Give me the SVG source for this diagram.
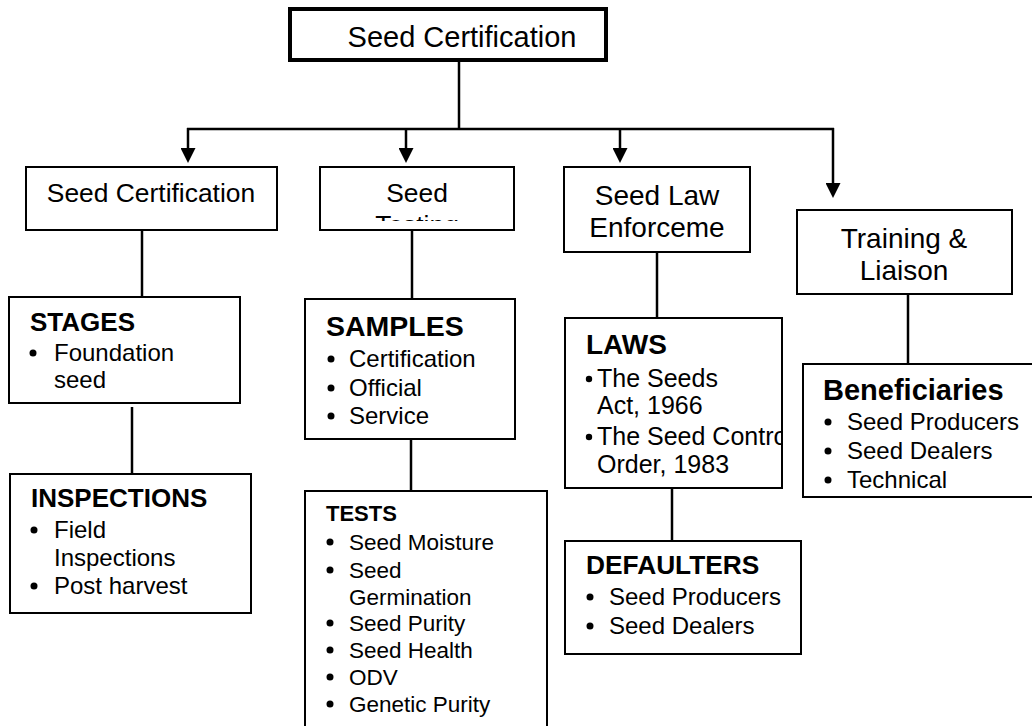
<svg xmlns="http://www.w3.org/2000/svg" width="1032" height="726" viewBox="0 0 1032 726">
  <style>
    text { font-family: "Liberation Sans", Arial, sans-serif; fill: #000; }
    .box { fill: #fff; stroke: #000; stroke-width: 2; }
    .root { fill: #fff; stroke: #000; stroke-width: 4; }
    .head { font-size: 26.4px; }
    .head2 { font-size: 28px; }
    .title { font-size: 29px; }
    .bold { font-weight: bold; }
    .item { font-size: 24px; }
    .link { fill: none; stroke: #000; stroke-width: 2.5; }
    .bullet { fill: #000; }
  </style>
  <defs>
    <marker id="arrow" viewBox="0 0 15 15" refX="0" refY="7.5" markerWidth="15" markerHeight="15" markerUnits="userSpaceOnUse" orient="auto">
      <path d="M0,0 L15,7.5 L0,15 Z" fill="#000"/>
    </marker>
    <clipPath id="clip-testing"><rect x="321" y="168" width="192" height="53"/></clipPath>
    <clipPath id="clip-laws"><rect x="566" y="319" width="216" height="168"/></clipPath>
  </defs>

  <!-- connectors -->
  <g id="connectors">
    <line class="link" x1="459" y1="62" x2="459" y2="129" stroke-width="3"/>
    <line class="link" x1="187" y1="129" x2="834" y2="129"/>
    <line class="link" x1="188" y1="128" x2="188" y2="148" marker-end="url(#arrow)"/>
    <line class="link" x1="406" y1="128" x2="406" y2="148" marker-end="url(#arrow)"/>
    <line class="link" x1="620" y1="128" x2="620" y2="148" marker-end="url(#arrow)"/>
    <line class="link" x1="833" y1="128" x2="833" y2="183" marker-end="url(#arrow)"/>
    <line class="link" x1="142" y1="231" x2="142" y2="296"/>
    <line class="link" x1="132" y1="407" x2="132" y2="473"/>
    <line class="link" x1="412" y1="231" x2="412" y2="298"/>
    <line class="link" x1="411" y1="440" x2="411" y2="490"/>
    <line class="link" x1="657" y1="253" x2="657" y2="317"/>
    <line class="link" x1="672" y1="489" x2="672" y2="540"/>
    <line class="link" x1="908" y1="295" x2="908" y2="363"/>
  </g>

  <!-- root -->
  <g id="node-root">
    <rect class="root" x="290" y="9" width="316" height="51"/>
    <text class="title" x="462" y="47" text-anchor="middle">Seed Certification</text>
  </g>

  <!-- first level -->
  <g id="node-certification">
    <rect class="box" x="26" y="167" width="251" height="63"/>
    <text class="head" x="151" y="202" text-anchor="middle">Seed Certification</text>
  </g>
  <g id="node-testing">
    <rect class="box" x="320" y="167" width="194" height="63"/>
    <g clip-path="url(#clip-testing)">
      <text class="head" x="417" y="202" text-anchor="middle">Seed</text>
      <text class="head" x="417" y="234" text-anchor="middle">Testing</text>
    </g>
  </g>
  <g id="node-enforcement">
    <rect class="box" x="564" y="167" width="186" height="85"/>
    <text class="head2" x="657" y="205" text-anchor="middle">Seed Law</text>
    <text class="head2" x="657" y="237" text-anchor="middle">Enforceme</text>
  </g>
  <g id="node-training">
    <rect class="box" x="797" y="210" width="215" height="84"/>
    <text class="head2" x="904" y="248" text-anchor="middle">Training &amp;</text>
    <text class="head2" x="904" y="280" text-anchor="middle">Liaison</text>
  </g>

  <!-- certification branch -->
  <g id="node-stages">
    <rect class="box" x="9" y="297" width="231" height="106"/>
    <text class="bold" x="30" y="331" font-size="26">STAGES</text>
    <circle class="bullet" cx="33" cy="353" r="3.5"/>
    <text class="item" x="54" y="361">Foundation</text>
    <text class="item" x="54" y="388">seed</text>
  </g>
  <g id="node-inspections">
    <rect class="box" x="10" y="474" width="241" height="139"/>
    <text class="bold" x="31" y="507" font-size="26">INSPECTIONS</text>
    <circle class="bullet" cx="34" cy="530" r="3.5"/>
    <text class="item" x="54" y="538">Field</text>
    <text class="item" x="54" y="566">Inspections</text>
    <circle class="bullet" cx="34" cy="586" r="3.5"/>
    <text class="item" x="54" y="594">Post harvest</text>
  </g>

  <!-- testing branch -->
  <g id="node-samples">
    <rect class="box" x="305" y="299" width="210" height="140"/>
    <text class="bold" x="326" y="336" font-size="28.5">SAMPLES</text>
    <circle class="bullet" cx="331" cy="359" r="3.5"/>
    <text class="item" x="349" y="367">Certification</text>
    <circle class="bullet" cx="331" cy="388" r="3.5"/>
    <text class="item" x="349" y="396">Official</text>
    <circle class="bullet" cx="331" cy="416" r="3.5"/>
    <text class="item" x="349" y="424">Service</text>
  </g>
  <g id="node-tests">
    <rect class="box" x="305" y="491" width="242" height="250"/>
    <text class="bold" x="326" y="521" font-size="22">TESTS</text>
    <g font-size="22.5">
      <circle class="bullet" cx="330" cy="542" r="3.5"/>
      <text x="349" y="550">Seed Moisture</text>
      <circle class="bullet" cx="330" cy="570" r="3.5"/>
      <text x="349" y="578">Seed</text>
      <text x="349" y="605">Germination</text>
      <circle class="bullet" cx="330" cy="623" r="3.5"/>
      <text x="349" y="631">Seed Purity</text>
      <circle class="bullet" cx="330" cy="650" r="3.5"/>
      <text x="349" y="658">Seed Health</text>
      <circle class="bullet" cx="330" cy="677" r="3.5"/>
      <text x="349" y="685">ODV</text>
      <circle class="bullet" cx="330" cy="704" r="3.5"/>
      <text x="349" y="712">Genetic Purity</text>
    </g>
  </g>

  <!-- enforcement branch -->
  <g id="node-laws">
    <rect class="box" x="565" y="318" width="217" height="170"/>
    <text class="bold" x="586" y="354" font-size="28">LAWS</text>
    <g clip-path="url(#clip-laws)" font-size="25">
      <circle class="bullet" cx="589" cy="379" r="3.2"/>
      <text x="597" y="387">The Seeds</text>
      <text x="597" y="414">Act, 1966</text>
      <circle class="bullet" cx="589" cy="437" r="3.2"/>
      <text x="597" y="445">The Seed Contro</text>
      <text x="597" y="473">Order, 1983</text>
    </g>
  </g>
  <g id="node-defaulters">
    <rect class="box" x="565" y="541" width="236" height="113"/>
    <text class="bold" x="586" y="574" font-size="26.3">DEFAULTERS</text>
    <circle class="bullet" cx="590" cy="597" r="3.5"/>
    <text class="item" x="609" y="605">Seed Producers</text>
    <circle class="bullet" cx="590" cy="626" r="3.5"/>
    <text class="item" x="609" y="634">Seed Dealers</text>
  </g>

  <!-- training branch -->
  <g id="node-beneficiaries">
    <rect class="box" x="803" y="364" width="240" height="133"/>
    <text class="bold" x="823" y="400" font-size="29">Beneficiaries</text>
    <circle class="bullet" cx="828" cy="422" r="3.5"/>
    <text class="item" x="847" y="430">Seed Producers</text>
    <circle class="bullet" cx="828" cy="451" r="3.5"/>
    <text class="item" x="847" y="459">Seed Dealers</text>
    <circle class="bullet" cx="828" cy="480" r="3.5"/>
    <text class="item" x="847" y="488">Technical</text>
  </g>
</svg>
